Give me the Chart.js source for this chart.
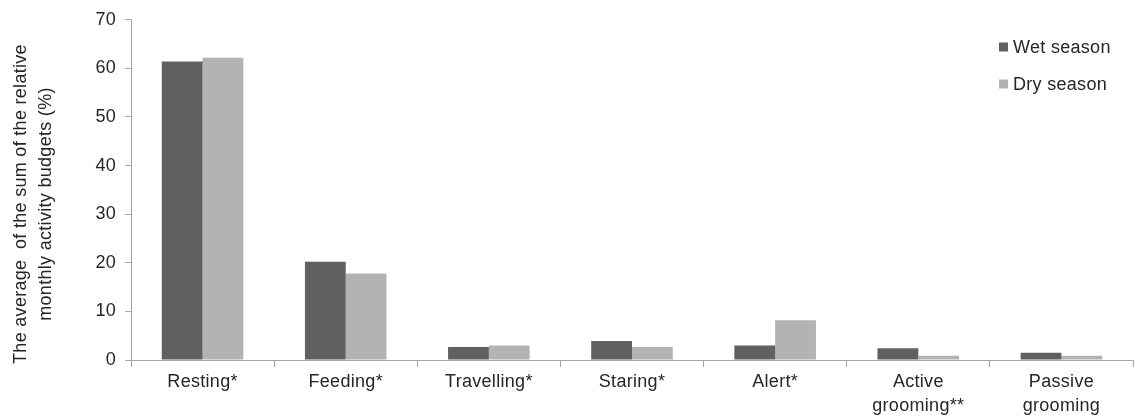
<!DOCTYPE html>
<html>
<head>
<meta charset="utf-8">
<script src="https://cdn.jsdelivr.net/npm/chart.js@4.4.1/dist/chart.umd.min.js"></script>
<style>
  html, body { margin: 0; padding: 0; background: #ffffff; }
  #wrap { position: relative; width: 1135px; height: 417px; }
</style>
</head>
<body>
<div id="wrap"><canvas id="c"></canvas></div>
<script>
const categories = [['Resting*'], ['Feeding*'], ['Travelling*'], ['Staring*'], ['Alert*'], ['Active', 'grooming**'], ['Passive', 'grooming']];
const wetSeason = [61.4, 20.2, 2.7, 3.9, 3.0, 2.4, 1.5];
const drySeason = [62.2, 17.8, 3.0, 2.7, 8.2, 0.9, 0.9];
const seriesNames = ['Wet season', 'Dry season'];
const seriesColors = ['#606060', '#b3b3b3'];
const yMin = 0, yMax = 70, yStep = 10;
const yTitleLines = ['The average  of the sum of the relative', 'monthly activity budgets (%)'];

const FONT = '"Liberation Sans", Arial, sans-serif';
const TEXT = '#262626';
const AXIS = '#a6a6a6';
const SPACING = '0.3px';
const FSIZE = 18;

const spacingPlugin = {
  id: 'spacing',
  beforeLayout(chart) { chart.ctx.letterSpacing = SPACING; },
  beforeDraw(chart) { chart.ctx.letterSpacing = SPACING; }
};

const extrasPlugin = {
  id: 'extras',
  afterDraw(chart) {
    const ctx = chart.ctx;
    ctx.save();
    ctx.letterSpacing = SPACING;
    ctx.fillStyle = TEXT;
    ctx.font = FSIZE + 'px ' + FONT;
    ctx.textAlign = 'center';
    ctx.textBaseline = 'middle';
    // y-axis title
    const cy = 204;
    const xs = [21, 46];
    yTitleLines.forEach((t, i) => {
      ctx.save();
      ctx.translate(xs[i], cy);
      ctx.rotate(-Math.PI / 2);
      ctx.fillText(t, 0, 0);
      ctx.restore();
    });
    // legend
    const ly = [47, 84];
    chart.data.datasets.forEach((ds, i) => {
      ctx.fillStyle = ds.backgroundColor;
      ctx.fillRect(999, ly[i] - 4.5, 9, 9);
      ctx.fillStyle = TEXT;
      ctx.textAlign = 'left';
      ctx.fillText(ds.label, 1013, ly[i] + 1);
    });
    ctx.restore();
  }
};

new Chart(document.getElementById('c'), {
  type: 'bar',
  data: {
    labels: categories,
    datasets: [
      { label: seriesNames[0], data: wetSeason, backgroundColor: seriesColors[0] },
      { label: seriesNames[1], data: drySeason, backgroundColor: seriesColors[1] }
    ]
  },
  options: {
    responsive: true,
    maintainAspectRatio: false,
    animation: false,
    devicePixelRatio: 1,
    categoryPercentage: 0.57,
    barPercentage: 1.0,
    layout: { padding: { left: 0, right: 2, top: 19, bottom: 0 } },
    plugins: {
      legend: { display: false },
      tooltip: { enabled: false }
    },
    scales: {
      x: {
        grid: { offset: true, drawOnChartArea: false, tickLength: 7, color: AXIS, lineWidth: 1 },
        border: { color: AXIS, width: 1 },
        ticks: { font: { family: FONT, size: FSIZE, lineHeight: 1.28 }, color: TEXT, padding: 4, maxRotation: 0, autoSkip: false },
        afterFit(s) { s.height = 57; }
      },
      y: {
        min: yMin, max: yMax,
        grid: { drawOnChartArea: false, tickLength: 6, color: AXIS, lineWidth: 1 },
        border: { color: AXIS, width: 1 },
        ticks: { stepSize: yStep, font: { family: FONT, size: FSIZE }, color: TEXT, padding: 9 },
        afterFit(s) { s.width = 131; }
      }
    }
  },
  plugins: [spacingPlugin, extrasPlugin]
});
</script>
</body>
</html>
